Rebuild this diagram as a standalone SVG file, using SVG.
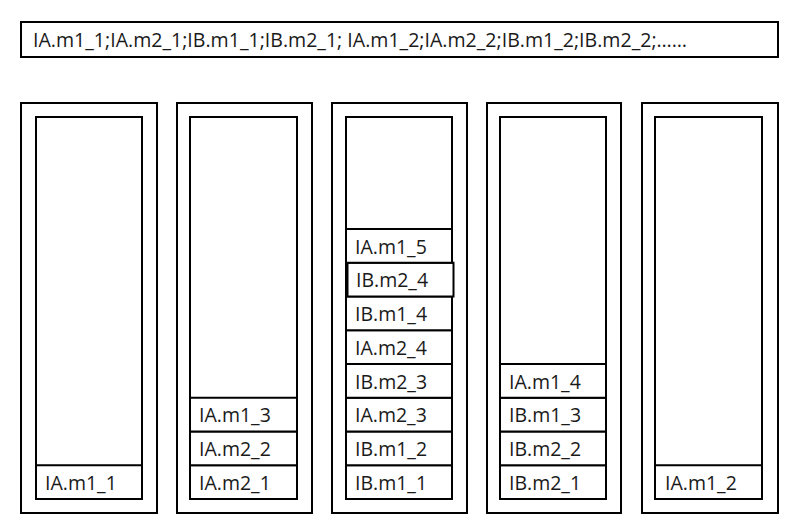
<svg xmlns="http://www.w3.org/2000/svg" width="800" height="522" viewBox="0 0 800 522">
<style>
.box{fill:#fff;stroke:#000;stroke-width:2}
.t{font-family:"Open Sans","Liberation Sans",sans-serif;font-size:19.5px;fill:#1a1a1a}
</style>
<rect width="800" height="522" fill="#fff"/>
<g id="sequence">
<rect class="box" x="21" y="22" width="757" height="35"/>
<text class="t" x="33" y="47" textLength="654" lengthAdjust="spacingAndGlyphs">IA.m1_1;IA.m2_1;IB.m1_1;IB.m2_1; IA.m1_2;IA.m2_2;IB.m1_2;IB.m2_2;……</text>
</g>
<g id="col1">
<rect class="box" x="21" y="103" width="136" height="410"/>
<rect class="box" x="36" y="117" width="106" height="382"/>
<g id="c1s0"><rect class="box" x="36" y="465.25" width="106" height="33.75"/><text class="t" x="45" y="490">IA.m1_1</text></g>
</g>
<g id="col2">
<rect class="box" x="177" y="103" width="135" height="410"/>
<rect class="box" x="190" y="117" width="107" height="382"/>
<g id="c2s0"><rect class="box" x="190" y="465.25" width="107" height="33.75"/><text class="t" x="199" y="490">IA.m2_1</text></g>
<g id="c2s1"><rect class="box" x="190" y="431.5" width="107" height="33.75"/><text class="t" x="199" y="456">IA.m2_2</text></g>
<g id="c2s2"><rect class="box" x="190" y="397.75" width="107" height="33.75"/><text class="t" x="199" y="422">IA.m1_3</text></g>
</g>
<g id="col3">
<rect class="box" x="332" y="103" width="135" height="410"/>
<rect class="box" x="346" y="117" width="106" height="382"/>
<g id="c3s0"><rect class="box" x="346" y="465.25" width="106" height="33.75"/><text class="t" x="355" y="490">IB.m1_1</text></g>
<g id="c3s1"><rect class="box" x="346" y="431.5" width="106" height="33.75"/><text class="t" x="355" y="456">IB.m1_2</text></g>
<g id="c3s2"><rect class="box" x="346" y="397.75" width="106" height="33.75"/><text class="t" x="355" y="422">IA.m2_3</text></g>
<g id="c3s3"><rect class="box" x="346" y="364" width="106" height="33.75"/><text class="t" x="355" y="389">IB.m2_3</text></g>
<g id="c3s4"><rect class="box" x="346" y="330.25" width="106" height="33.75"/><text class="t" x="355" y="355">IA.m2_4</text></g>
<g id="c3s5"><rect class="box" x="346" y="296.5" width="106" height="33.75"/><text class="t" x="355" y="321">IB.m1_4</text></g>
<g id="c3s6"><rect class="box" x="347.5" y="262.75" width="106" height="33.75"/><text class="t" x="356" y="287">IB.m2_4</text></g>
<g id="c3s7"><rect class="box" x="346" y="229" width="106" height="33.75"/><text class="t" x="355" y="254">IA.m1_5</text></g>
</g>
<g id="col4">
<rect class="box" x="487" y="103" width="134" height="410"/>
<rect class="box" x="500" y="117" width="106" height="382"/>
<g id="c4s0"><rect class="box" x="500" y="465.25" width="106" height="33.75"/><text class="t" x="509" y="490">IB.m2_1</text></g>
<g id="c4s1"><rect class="box" x="500" y="431.5" width="106" height="33.75"/><text class="t" x="509" y="456">IB.m2_2</text></g>
<g id="c4s2"><rect class="box" x="500" y="397.75" width="106" height="33.75"/><text class="t" x="509" y="422">IB.m1_3</text></g>
<g id="c4s3"><rect class="box" x="500" y="364" width="106" height="33.75"/><text class="t" x="509" y="389">IA.m1_4</text></g>
</g>
<g id="col5">
<rect class="box" x="642" y="103" width="136" height="410"/>
<rect class="box" x="655" y="117" width="107" height="382"/>
<g id="c5s0"><rect class="box" x="655" y="465.25" width="107" height="33.75"/><text class="t" x="665" y="490">IA.m1_2</text></g>
</g>
<g id="connectors"/>
</svg>
